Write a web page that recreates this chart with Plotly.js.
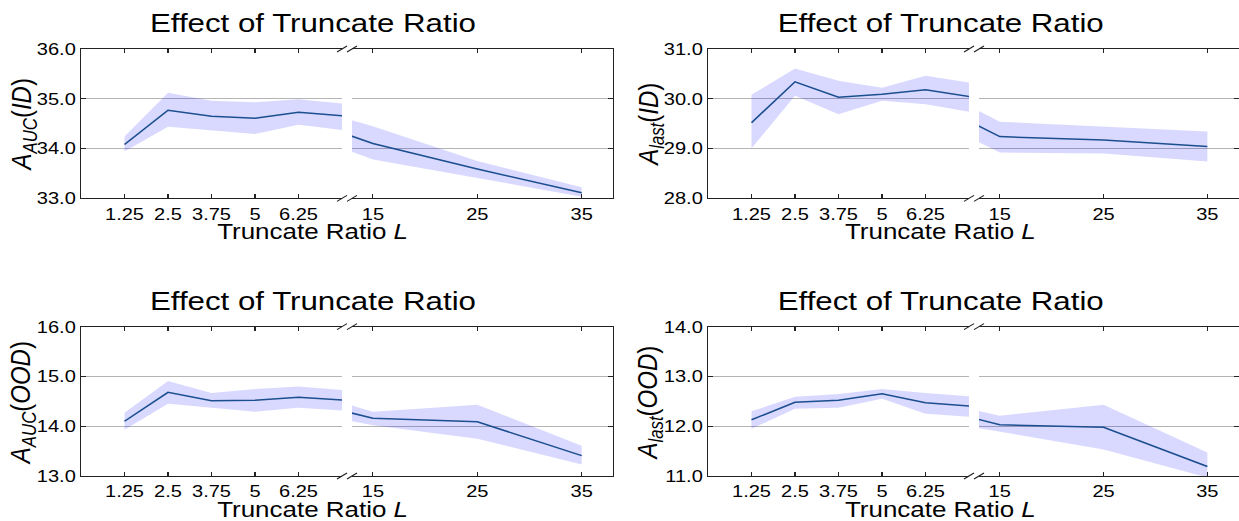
<!DOCTYPE html>
<html><head><meta charset="utf-8">
<script src="https://cdn.plot.ly/plotly-3.0.1.min.js"></script>
<style>
html,body{margin:0;padding:0;overflow:hidden;background:#fff;width:1239px;height:521px}
#chart{width:1052px;height:521px;transform:scaleX(1.18);transform-origin:0 0}
</style></head><body><div id="chart"></div><script>
// ---- data ----
const truncateRatio = [1.25, 2.5, 3.75, 5, 6.25, 10, 15, 25, 35];
const leftTickVals = [1.25, 2.5, 3.75, 5, 6.25];
const leftTickText = ['1.25', '2.5', '3.75', '5', '6.25'];
const rightTickVals = [15, 25, 35];
const rightTickText = ['15', '25', '35'];

const aucIdMean  = [34.08, 34.77, 34.65, 34.61, 34.73, 34.47, 34.10, 33.59, 33.11];
const aucIdUpper = [34.24, 35.12, 34.96, 34.93, 34.99, 34.75, 34.45, 33.75, 33.22];
const aucIdLower = [33.94, 34.44, 34.37, 34.29, 34.48, 34.16, 33.78, 33.41, 33.03];

const lastIdMean  = [29.52, 30.34, 30.03, 30.09, 30.18, 29.76, 29.24, 29.17, 29.04];
const lastIdUpper = [30.08, 30.61, 30.36, 30.22, 30.46, 30.08, 29.54, 29.44, 29.34];
const lastIdLower = [29.00, 30.06, 29.69, 29.96, 29.89, 29.44, 28.92, 28.90, 28.74];

const aucOodMean  = [14.10, 14.68, 14.51, 14.52, 14.58, 14.42, 14.16, 14.09, 13.41];
const aucOodUpper = [14.27, 14.91, 14.67, 14.75, 14.80, 14.60, 14.29, 14.43, 13.61];
const aucOodLower = [13.93, 14.45, 14.37, 14.29, 14.37, 14.21, 14.02, 13.75, 13.23];

const lastOodMean  = [12.13, 12.48, 12.52, 12.65, 12.47, 12.29, 12.03, 11.98, 11.19];
const lastOodUpper = [12.30, 12.59, 12.65, 12.75, 12.67, 12.45, 12.21, 12.43, 11.47];
const lastOodLower = [11.95, 12.35, 12.37, 12.55, 12.25, 12.07, 11.89, 11.53, 10.97];

const chartTitle = 'Effect of Truncate Ratio';
const xLabel = 'Truncate Ratio <i>L</i>';
const yLabels = [
  '<i>A</i><sub><i>AUC</i></sub>(<i>ID</i>)',
  '<i>A</i><sub><i>last</i></sub>(<i>ID</i>)',
  '<i>A</i><sub><i>AUC</i></sub>(<i>OOD</i>)',
  '<i>A</i><sub><i>last</i></sub>(<i>OOD</i>)'
];
const yRanges = [[33, 36], [28, 31], [13, 16], [11, 14]];
const series = [
  [aucIdMean, aucIdUpper, aucIdLower],
  [lastIdMean, lastIdUpper, lastIdLower],
  [aucOodMean, aucOodUpper, aucOodLower],
  [lastOodMean, lastOodUpper, lastOodLower]
];

// ---- layout geometry (reference pixels, converted to paper) ----
const S = 1.18, W = 1052, H = 521;
const px = v => v / S / W;
const py = v => 1 - v / H;
const FONT = 'Liberation Sans, Arial, Helvetica, sans-serif';
const lineCol = '#222222';

const traces = [];
const layout = {
  width: W, height: H,
  margin: {l: 0, r: 0, t: 0, b: 0},
  paper_bgcolor: '#fff', plot_bgcolor: 'rgba(0,0,0,0)',
  showlegend: false,
  font: {family: FONT, color: '#000'},
  annotations: [], shapes: []
};

for (let i = 0; i < 4; i++) {
  const col = i % 2, row = Math.floor(i / 2);
  const cOff = col * 627, rOff = row * 277.7;
  const top = 49 + rOff, bot = 198.3 + rOff;
  const panels = [
    {x0: 81 + cOff, x1: 342 + cOff, range: [0, 7.5], tv: leftTickVals, tt: leftTickText, side: 'left'},
    {x0: 352 + cOff, x1: (col === 1 ? 1238.5 : 613), range: [13, 38], tv: rightTickVals, tt: rightTickText, side: 'right'}
  ];
  const [mean, upper, lower] = series[i];
  panels.forEach((p, j) => {
    const k = 2 * i + j + 1;
    const xn = k === 1 ? 'x' : 'x' + k, yn = k === 1 ? 'y' : 'y' + k;
    const xk = k === 1 ? 'xaxis' : 'xaxis' + k, yk = k === 1 ? 'yaxis' : 'yaxis' + k;
    traces.push({
      type: 'scatter', mode: 'lines', xaxis: xn, yaxis: yn,
      x: truncateRatio.concat(truncateRatio.slice().reverse()),
      y: upper.concat(lower.slice().reverse()),
      fill: 'toself', fillcolor: 'rgba(0,0,255,0.15)',
      line: {width: 0}, hoverinfo: 'skip'
    });
    traces.push({
      type: 'scatter', mode: 'lines', xaxis: xn, yaxis: yn,
      x: truncateRatio, y: mean,
      line: {color: '#1c4f8f', width: 1.5}
    });
    layout[xk] = {
      domain: [px(p.x0), px(p.x1)], range: p.range, anchor: yn,
      tickmode: 'array', tickvals: p.tv, ticktext: p.tt,
      ticks: 'inside', ticklen: 4, tickwidth: 1, tickcolor: lineCol,
      showline: true, linecolor: lineCol, linewidth: 1, mirror: 'ticks',
      showgrid: false, zeroline: false, fixedrange: true,
      tickfont: {family: FONT, size: 17, color: '#000'}
    };
    layout[yk] = {
      domain: [py(bot), py(top)], range: yRanges[i], anchor: xn, side: p.side,
      dtick: 1, tick0: 0, tickformat: '.1f',
      showticklabels: j === 0,
      ticks: 'inside', ticklen: 4, tickwidth: 1, tickcolor: lineCol,
      showline: true, linecolor: lineCol, linewidth: 1, mirror: false,
      showgrid: true, gridcolor: '#b4b4b4', gridwidth: 1,
      zeroline: false, fixedrange: true,
      tickfont: {family: FONT, size: 17, color: '#000'}
    };
  });
  // break marks
  [top, bot].forEach(yy => {
    [342 + cOff, 352 + cOff].forEach(ex => {
      layout.shapes.push({type: 'line', xref: 'paper', yref: 'paper',
        x0: px(ex - 5), y0: py(yy + 3), x1: px(ex + 5), y1: py(yy - 3),
        line: {color: lineCol, width: 1}});
    });
  });
  layout.annotations.push({xref: 'paper', yref: 'paper', x: px(313 + cOff), y: py(23 + rOff),
    xanchor: 'center', yanchor: 'middle', showarrow: false, text: chartTitle,
    font: {family: FONT, size: 26.5, color: '#000'}});
  layout.annotations.push({xref: 'paper', yref: 'paper', x: px(313 + cOff), y: py(232 + rOff),
    xanchor: 'center', yanchor: 'middle', showarrow: false, text: xLabel,
    font: {family: FONT, size: 22, color: '#000'}});
  layout.annotations.push({xref: 'paper', yref: 'paper', x: px(23 + cOff), y: py(125 + rOff),
    xanchor: 'center', yanchor: 'middle', showarrow: false, text: yLabels[i], textangle: -90,
    font: {family: FONT, size: 24, color: '#000'}});
}

Plotly.newPlot('chart', traces, layout, {displayModeBar: false, staticPlot: true});
</script></body></html>
